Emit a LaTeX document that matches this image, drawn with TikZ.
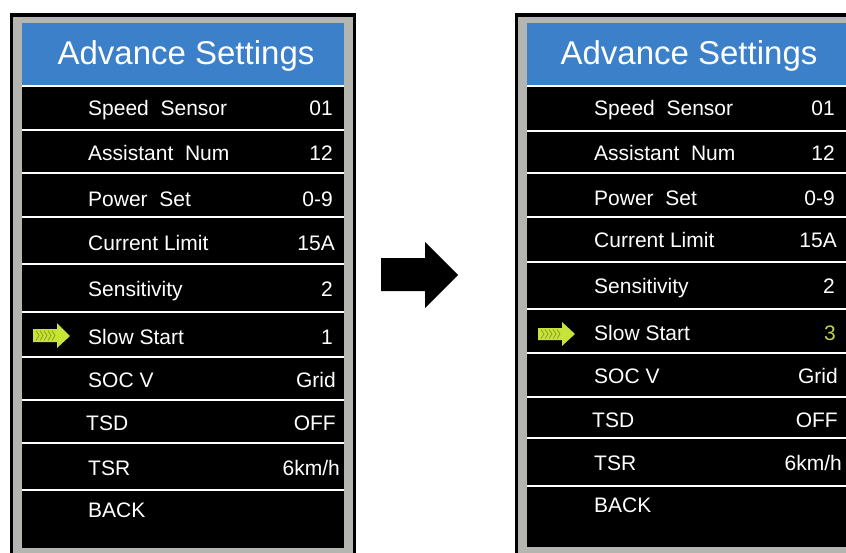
\documentclass[tikz,border=0pt]{standalone}
\usepackage{fontspec}
\setmainfont{Liberation Sans}
\definecolor{hdrblue}{RGB}{59,128,200}
\definecolor{framegray}{RGB}{180,180,176}
\definecolor{ygreen}{RGB}{200,226,60}
\definecolor{ydark}{RGB}{140,160,25}
\definecolor{valgreen}{RGB}{190,210,80}
\tikzset{
  lbl/.style={anchor=base west, inner sep=0pt, text=white, font=\fontsize{21}{25}\selectfont},
  val/.style={anchor=base east, inner sep=0pt, text=white, font=\fontsize{21}{25}\selectfont},
  hdr/.style={anchor=base, inner sep=0pt, text=white, font=\fontsize{33}{38}\selectfont},
  sepline/.style={white, line width=2.2pt},
  pointer/.style={fill=ygreen},
  chev/.style={ydark, line width=0.8pt},
}
\begin{document}
\begin{tikzpicture}[x=1pt,y=-1pt]
\useasboundingbox (0,0) rectangle (846,552);
\fill[white] (0,0) rectangle (846,552);
% ---------------- left screen ----------------
\fill[black] (10,13) rectangle (356,553);
\fill[framegray] (13,17) rectangle (353,553);
\fill[black] (22,23) rectangle (344,548);
\fill[hdrblue] (22,23) rectangle (344,85);
\foreach \yy in {86,130,173,217,264,312,357,400,443,490}
  \draw[sepline] (22,\yy) -- (344,\yy);
\node[hdr] (Lh) at (186,64) {Advance Settings};
\node[lbl] (L1) at (88,115) {Speed\ \ Sensor};
\node[lbl] (L2) at (88,160) {Assistant\ \ Num};
\node[lbl] (L3) at (88,206) {Power\ \ Set};
\node[lbl] (L4) at (88,250) {Current Limit};
\node[lbl] (L5) at (88,296) {Sensitivity};
\node[lbl] (L6) at (88,344) {Slow Start};
\node[lbl] (L7) at (88,387) {SOC V};
\node[lbl] (L8) at (86,430) {TSD};
\node[lbl] (L9) at (88,475) {TSR};
\node[lbl] (L10) at (88,517) {BACK};
\node[val] (Lv1) at (333,115) {01};
\node[val] (Lv2) at (333,160) {12};
\node[val] (Lv3) at (333,206) {0-9};
\node[val] (Lv4) at (335,250) {15A};
\node[val] (Lv5) at (333,296) {2};
\node[val] (Lv6) at (333,344) {1};
\node[val] (Lv7) at (336,387) {Grid};
\node[val] (Lv8) at (336,430) {OFF};
\node[val] (Lv9) at (340,475) {6km/h};
% left pointer
\fill[pointer] (33,329) -- (57,329) -- (57,323) -- (70,336) -- (57,348) -- (57,342) -- (33,342) -- cycle;
\foreach \xx in {36,40,44,48,52}
  \draw[chev] (\xx,330.5) -- (\xx+3,335.5) -- (\xx,340.5);
% ---------------- arrow ----------------
\fill[black] (381,258) -- (425,258) -- (425,242) -- (458,275) -- (425,308) -- (425,291) -- (381,291) -- cycle;
% ---------------- right screen ----------------
\fill[black] (515,13) rectangle (847,553);
\fill[framegray] (518,17) rectangle (847,553);
\fill[black] (527,23) rectangle (847,547);
\fill[hdrblue] (527,23) rectangle (847,85);
\foreach \yy in {86,131,173,217,262,309,353,397,438,486}
  \draw[sepline] (527,\yy) -- (847,\yy);
\node[hdr] (Rh) at (689,64) {Advance Settings};
\node[lbl] (R1) at (594,115) {Speed\ \ Sensor};
\node[lbl] (R2) at (594,160) {Assistant\ \ Num};
\node[lbl] (R3) at (594,205) {Power\ \ Set};
\node[lbl] (R4) at (594,247) {Current Limit};
\node[lbl] (R5) at (594,293) {Sensitivity};
\node[lbl] (R6) at (594,340) {Slow Start};
\node[lbl] (R7) at (594,383) {SOC V};
\node[lbl] (R8) at (592,427) {TSD};
\node[lbl] (R9) at (594,470) {TSR};
\node[lbl] (R10) at (594,512) {BACK};
\node[val] (Rv1) at (835,115) {01};
\node[val] (Rv2) at (835,160) {12};
\node[val] (Rv3) at (835,205) {0-9};
\node[val] (Rv4) at (837,247) {15A};
\node[val] (Rv5) at (835,293) {2};
\node[val, text=valgreen] (Rv6) at (836,340) {3};
\node[val] (Rv7) at (838,383) {Grid};
\node[val] (Rv8) at (838,427) {OFF};
\node[val] (Rv9) at (842,470) {6km/h};
% right pointer
\fill[pointer] (538,328) -- (562,328) -- (562,322) -- (575,334) -- (562,346) -- (562,340) -- (538,340) -- cycle;
\foreach \xx in {541,545,549,553,557}
  \draw[chev] (\xx,329.5) -- (\xx+3,334) -- (\xx,338.5);
\end{tikzpicture}
\end{document}
